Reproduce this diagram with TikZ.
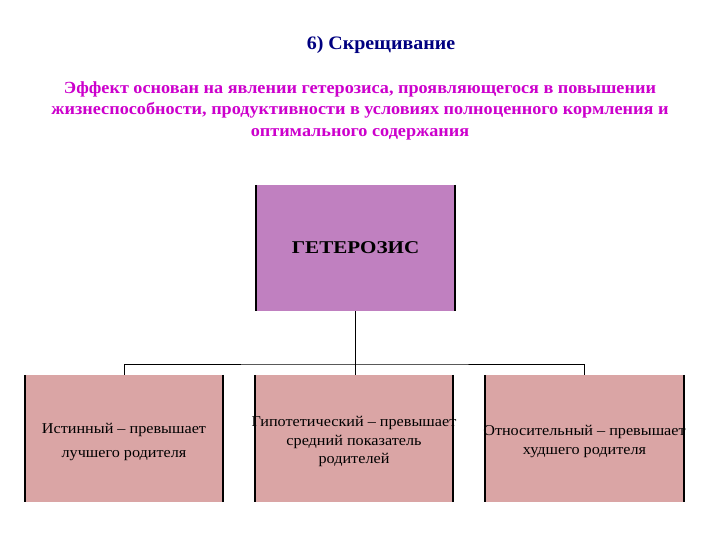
\documentclass[tikz,border=0pt]{standalone}
\usepackage{fontspec}
\setmainfont{Liberation Serif}
\newfontfamily\hettitlefont[FakeStretch=1.05]{Liberation Serif}
\newfontfamily\hetintrofont[FakeStretch=1.07]{Liberation Serif}
\newfontfamily\hetheadfont[FakeStretch=1.17]{Liberation Serif}
\newfontfamily\hetboxfont[FakeStretch=1.08]{Liberation Serif}
\definecolor{heterotitle}{RGB}{0,0,128}
\definecolor{heterotext}{RGB}{204,0,204}
\definecolor{heterotop}{RGB}{192,128,192}
\definecolor{heterobox}{RGB}{218,165,165}
\begin{document}
\begin{tikzpicture}[
  x=1pt, y=-1pt,
  hetbox/.style = {fill=heterobox, minimum width=198pt, minimum height=127pt, inner sep=0pt},
  hetlbl/.style = {align=center, yshift=-3pt, font=\hetboxfont\fontsize{15}{18.5}\selectfont},
  hettop/.style = {fill=heterotop, minimum width=199pt, minimum height=126pt, inner sep=0pt,
    font=\hetheadfont\fontsize{18}{21}\selectfont\bfseries},
  hetside/.style = {line width=2pt, black},
  hetlink/.style = {line width=0.8pt, black}
]
  \useasboundingbox (0,0) rectangle (720,540);
  % title and intro
  \node[text=heterotitle, font=\hettitlefont\fontsize{19}{22}\selectfont\bfseries] (title) at (381,45) {6) Скрещивание};
  \node[text=heterotext, align=center, font=\hetintrofont\fontsize{17}{21.5}\selectfont\bfseries] (intro) at (360,110.5)
    {Эффект основан на явлении гетерозиса, проявляющегося в повышении\\
     жизнеспособности, продуктивности в условиях полноценного кормления и\\
     оптимального содержания};
  % main box
  \node[hettop] (top) at (355.5,248) {ГЕТЕРОЗИС};
  \draw[hetside] (top.north west) -- (top.south west);
  \draw[hetside] (top.north east) -- (top.south east);
  % three kinds
  \node[hetbox] (true) at (124,438.5) {};
  \node[hetbox] (hypo) at (354,438.5) {};
  \node[hetbox] (rel) at (584.5,438.5) {};
  \foreach \b in {true,hypo,rel} {
    \draw[hetside] (\b.north west) -- (\b.south west);
    \draw[hetside] (\b.north east) -- (\b.south east);
  }
  \node[hetlbl] (truetxt) at (true) {Истинный – превышает\\[5.5pt] лучшего родителя};
  \node[hetlbl] (hypotxt) at (hypo) {Гипотетический – превышает\\ средний показатель\\ родителей};
  \node[hetlbl] (reltxt) at (rel) {Относительный – превышает\\ худшего родителя};
  % links
  \coordinate (bus) at (355,364);
  \draw[hetlink] (true.north) |- (bus) -| (rel.north);
  \draw[hetlink] (top.south) -- (top.south |- hypo.north);
\end{tikzpicture}
\end{document}
